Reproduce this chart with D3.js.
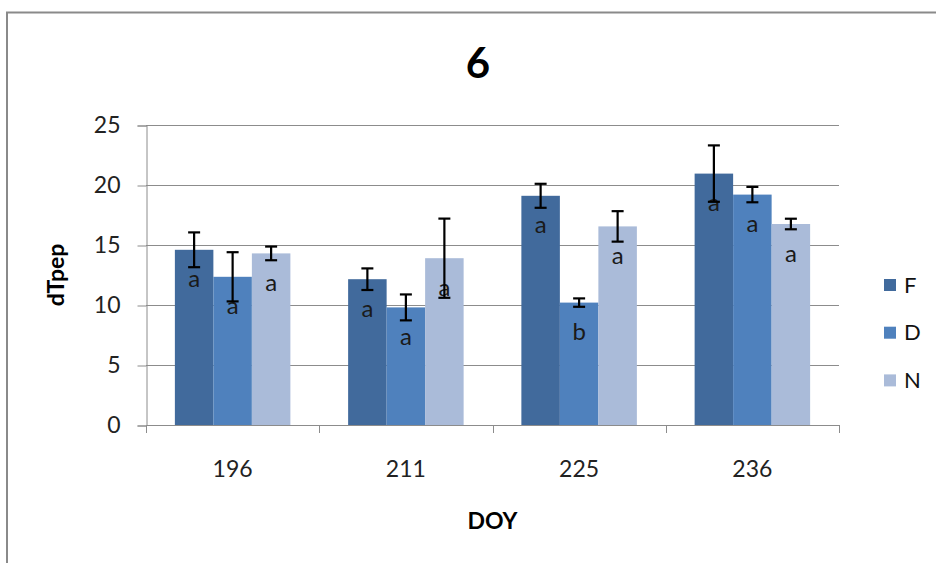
<!DOCTYPE html>
<html>
<head>
<meta charset="utf-8">
<script src="https://cdn.jsdelivr.net/npm/d3@7"></script>
<style>
  body { margin: 0; background: #fff; }
  svg { display: block; font-family: Lato, "Open Sans", sans-serif; }
</style>
</head>
<body>
<svg id="svg1" width="936" height="563"></svg>
<script>
var days = ['196', '211', '225', '236'];
var series = ['F', 'D', 'N'];
var colors = ['#416a9c', '#4f81bd', '#aabbd9'];

var valuesF = [14.6, 12.15, 19.1, 20.95];
var valuesD = [12.35, 9.8, 10.2, 19.2];
var valuesN = [14.3, 13.9, 16.55, 16.75];

var errF = [1.45, 0.9, 1.0, 2.35];
var errD = [2.05, 1.08, 0.35, 0.64];
var errN = [0.57, 3.3, 1.27, 0.44];

var lettersF = ['a', 'a', 'a', 'a'];
var lettersD = ['a', 'a', 'b', 'a'];
var lettersN = ['a', 'a', 'a', 'a'];

var yTicks = [0, 5, 10, 15, 20, 25];

var values = [valuesF, valuesD, valuesN];
var errs = [errF, errD, errN];
var letters = [lettersF, lettersD, lettersN];

var bars = [];
days.forEach(function (d, i) {
    series.forEach(function (s, j) {
        bars.push({day: d, s: s, v: values[j][i], e: errs[j][i], l: letters[j][i], c: colors[j]});
    });
});

var plotLeft = 146, plotRight = 839, plotTop = 125, plotBottom = 425;

var svg = d3.select('#svg1');

// outer frame (only top/left edges visible)
svg.append('rect')
    .attr('x', 7).attr('y', 12.5)
    .attr('width', 1200).attr('height', 1200)
    .attr('fill', 'none')
    .attr('stroke', '#8a8a8a')
    .attr('stroke-width', 2);

var x = d3.scaleBand().domain(days).range([plotLeft, plotRight]);
var gap = x.bandwidth() * 1.5 / 4.5;
var x1 = d3.scaleBand().domain(series).range([gap / 2, x.bandwidth() - gap / 2]);
var y = d3.scaleLinear().domain([0, 25]).range([plotBottom, plotTop]);

// gridlines
svg.append('g')
    .selectAll('line')
    .data(yTicks.slice(1))
    .enter()
    .append('line')
    .attr('x1', plotLeft).attr('x2', plotRight)
    .attr('y1', function (d) { return Math.round(y(d)) + 0.5; })
    .attr('y2', function (d) { return Math.round(y(d)) + 0.5; })
    .attr('stroke', '#8c8c8c')
    .attr('stroke-width', 1);

// bars
svg.append('g')
    .selectAll('rect')
    .data(bars)
    .enter()
    .append('rect')
    .attr('x', function (d) { return x(d.day) + x1(d.s); })
    .attr('width', x1.bandwidth())
    .attr('y', function (d) { return y(d.v); })
    .attr('height', function (d) { return y(0) - y(d.v); })
    .attr('fill', function (d) { return d.c; });

// letters inside bars
svg.append('g')
    .selectAll('text')
    .data(bars)
    .enter()
    .append('text')
    .attr('x', function (d) { return x(d.day) + x1(d.s) + x1.bandwidth() / 2; })
    .attr('y', function (d) { return y(d.v) + 37.5; })
    .attr('text-anchor', 'middle')
    .attr('font-size', '24px')
    .attr('fill', '#1a1a1a')
    .text(function (d) { return d.l; });

// error bars
var eb = svg.append('g')
    .attr('stroke', '#000')
    .attr('stroke-width', 2.2)
    .selectAll('g')
    .data(bars)
    .enter()
    .append('g')
    .attr('transform', function (d) {
        return 'translate(' + (x(d.day) + x1(d.s) + x1.bandwidth() / 2) + ',0)';
    });
eb.append('line')
    .attr('y1', function (d) { return y(d.v + d.e); })
    .attr('y2', function (d) { return y(d.v - d.e); });
eb.append('line')
    .attr('x1', -6).attr('x2', 6)
    .attr('y1', function (d) { return y(d.v + d.e); })
    .attr('y2', function (d) { return y(d.v + d.e); });
eb.append('line')
    .attr('x1', -6).attr('x2', 6)
    .attr('y1', function (d) { return y(d.v - d.e); })
    .attr('y2', function (d) { return y(d.v - d.e); });

// y axis
var yAxis = svg.append('g')
    .attr('transform', 'translate(' + (plotLeft + 0.5) + ',0.5)')
    .call(d3.axisLeft(y).tickValues(yTicks).tickSize(9).tickPadding(17));
yAxis.select('.domain').attr('stroke', '#8c8c8c');
yAxis.selectAll('.tick line').attr('stroke', '#8c8c8c');
yAxis.selectAll('.tick text')
    .attr('font-family', 'Lato, sans-serif')
    .attr('font-size', '23px')
    .attr('fill', '#222');

// x axis
var xTickPos = [0, 1, 2, 3, 4];
var xAxis = svg.append('g');
xAxis.append('line')
    .attr('x1', plotLeft).attr('x2', plotRight)
    .attr('y1', plotBottom + 0.5).attr('y2', plotBottom + 0.5)
    .attr('stroke', '#8c8c8c');
xAxis.selectAll('line.tk')
    .data(xTickPos)
    .enter()
    .append('line')
    .attr('class', 'tk')
    .attr('x1', function (d) { return Math.round(plotLeft + d * x.step()) + 0.5; })
    .attr('x2', function (d) { return Math.round(plotLeft + d * x.step()) + 0.5; })
    .attr('y1', plotBottom).attr('y2', plotBottom + 8)
    .attr('stroke', '#8c8c8c');
xAxis.selectAll('text')
    .data(days)
    .enter()
    .append('text')
    .attr('x', function (d) { return x(d) + x.bandwidth() / 2; })
    .attr('y', 477)
    .attr('text-anchor', 'middle')
    .attr('font-size', '23px')
    .attr('fill', '#222')
    .text(function (d) { return d; });

// titles
svg.append('text')
    .attr('x', 478).attr('y', 78)
    .attr('text-anchor', 'middle')
    .attr('font-size', '42px')
    .attr('font-weight', 'bold')
    .text('6');

svg.append('text')
    .attr('x', (plotLeft + plotRight) / 2).attr('y', 529)
    .attr('text-anchor', 'middle')
    .attr('font-size', '23px')
    .attr('font-weight', 'bold')
    .text('DOY');

svg.append('text')
    .attr('transform', 'translate(64,' + ((plotTop + plotBottom) / 2) + ') rotate(-90)')
    .attr('text-anchor', 'middle')
    .attr('font-size', '23px')
    .attr('font-weight', 'bold')
    .text('dTpep');

// legend
var legend = svg.append('g')
    .selectAll('g')
    .data(series)
    .enter()
    .append('g')
    .attr('transform', function (d, i) { return 'translate(884,' + (279 + i * 47.7) + ')'; });
legend.append('rect')
    .attr('width', 12).attr('height', 12)
    .attr('fill', function (d, i) { return colors[i]; });
legend.append('text')
    .attr('x', 20).attr('y', 13.5)
    .attr('font-size', '22px')
    .attr('fill', '#111')
    .text(function (d) { return d; });
</script>
</body>
</html>
